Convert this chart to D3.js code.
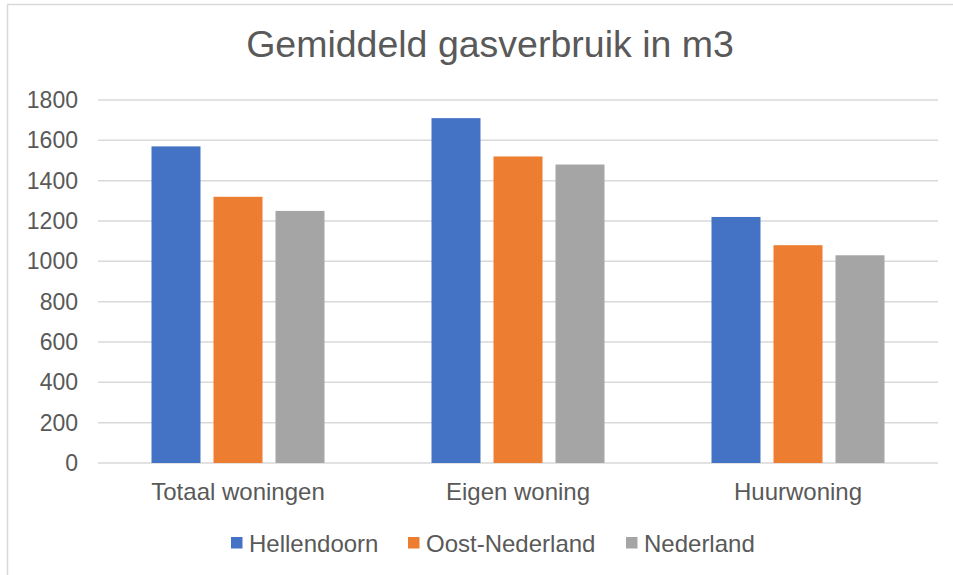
<!DOCTYPE html>
<html>
<head>
<meta charset="utf-8">
<script src="https://cdn.jsdelivr.net/npm/d3@7"></script>
<style>
  body { margin: 0; background: #fff; }
  svg { font-family: "Liberation Sans", Arial, sans-serif; }
</style>
</head>
<body>
<div id="root"></div>
<script>
const categories = ["Totaal woningen", "Eigen woning", "Huurwoning"];
const series = ["Hellendoorn", "Oost-Nederland", "Nederland"];
const hellendoorn = [1570, 1710, 1220];
const oostNederland = [1320, 1520, 1080];
const nederland = [1250, 1480, 1030];
const yTicks = [0, 200, 400, 600, 800, 1000, 1200, 1400, 1600, 1800];
const colors = ["#4472c4", "#ed7d31", "#a5a5a5"];

const values = [hellendoorn, oostNederland, nederland];

const width = 953, height = 575;
const margin = {top: 100, right: 15, bottom: 112, left: 98};

const svg = d3.select("#root").append("svg")
    .attr("width", width)
    .attr("height", height);

// chart border
svg.append("rect")
    .attr("x", 7.5).attr("y", 4.5)
    .attr("width", width + 10).attr("height", height + 10)
    .attr("fill", "none")
    .attr("stroke", "#d9d9d9")
    .attr("stroke-width", 1.5);

const x0 = d3.scaleBand()
    .domain(categories)
    .range([margin.left, width - margin.right]);

const x1 = d3.scaleBand()
    .domain(series)
    .range([53.5, 226.5])
    .paddingInner(13 / 62);

const y = d3.scaleLinear()
    .domain([0, 1800])
    .range([height - margin.bottom, margin.top]);

// gridlines
svg.append("g")
    .selectAll("line")
    .data(yTicks)
    .enter()
    .append("line")
    .attr("x1", margin.left)
    .attr("x2", width - margin.right)
    .attr("y1", d => y(d))
    .attr("y2", d => y(d))
    .attr("stroke", "#d9d9d9")
    .attr("stroke-width", 1.5);

// y labels
svg.append("g")
    .selectAll("text")
    .data(yTicks)
    .enter()
    .append("text")
    .attr("x", 78)
    .attr("y", d => y(d))
    .attr("dy", "0.35em")
    .attr("text-anchor", "end")
    .attr("font-size", 23)
    .attr("fill", "#595959")
    .text(d => d);

// bars
const groups = svg.append("g")
    .selectAll("g")
    .data(categories)
    .enter()
    .append("g")
    .attr("transform", d => `translate(${x0(d)},0)`);

groups.selectAll("rect")
    .data((d, i) => series.map((s, j) => ({s: s, v: values[j][i], c: colors[j]})))
    .enter()
    .append("rect")
    .attr("x", d => x1(d.s))
    .attr("width", x1.bandwidth())
    .attr("y", d => y(d.v))
    .attr("height", d => y(0) - y(d.v))
    .attr("fill", d => d.c);

// category labels
svg.append("g")
    .selectAll("text")
    .data(categories)
    .enter()
    .append("text")
    .attr("x", d => x0(d) + x0.bandwidth() / 2)
    .attr("y", 500)
    .attr("text-anchor", "middle")
    .attr("font-size", 24)
    .attr("fill", "#595959")
    .text(d => d);

// title
svg.append("text")
    .attr("x", 490)
    .attr("y", 57)
    .attr("text-anchor", "middle")
    .attr("font-size", 37.5)
    .attr("fill", "#595959")
    .text("Gemiddeld gasverbruik in m3");

// legend
const legendX = [231, 408, 626];
const legend = svg.append("g")
    .selectAll("g")
    .data(series)
    .enter()
    .append("g")
    .attr("transform", (d, i) => `translate(${legendX[i]},537)`);

legend.append("rect")
    .attr("width", 11.5)
    .attr("height", 11.5)
    .attr("fill", (d, i) => colors[i]);

legend.append("text")
    .attr("x", 18)
    .attr("y", 14.5)
    .attr("font-size", 24)
    .attr("fill", "#595959")
    .text(d => d);
</script>
</body>
</html>
